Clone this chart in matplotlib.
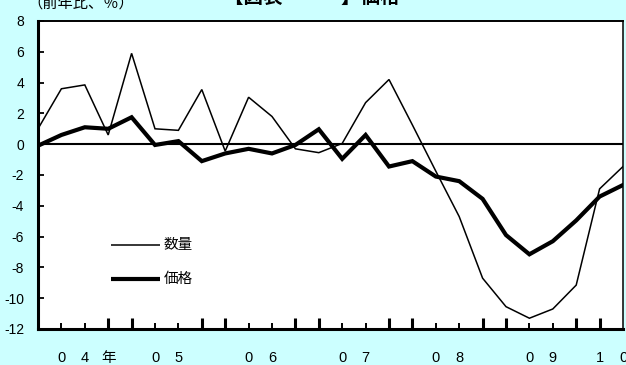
import matplotlib
matplotlib.use("Agg")
import matplotlib.pyplot as plt
from matplotlib.transforms import blended_transform_factory

# Year-on-year change (%), quarterly, 2004 Q1 onward
quarter_idx = list(range(26))
quantity = [1.0, 3.6, 3.85, 0.6, 5.9, 1.0, 0.9, 3.55, -0.45, 3.05, 1.8, -0.3,
            -0.55, 0.05, 2.7, 4.2, 1.25, -1.75, -4.7, -8.7, -10.55, -11.3,
            -10.7, -9.15, -2.9, -1.45]
price = [-0.1, 0.6, 1.1, 1.0, 1.75, -0.05, 0.2, -1.1, -0.6, -0.3, -0.6, -0.05,
         0.97, -0.95, 0.6, -1.45, -1.1, -2.1, -2.4, -3.55, -5.9, -7.15,
         -6.3, -4.95, -3.4, -2.65]

series_names = ["数量", "価格"]
y_ticks = [8, 6, 4, 2, 0, -2, -4, -6, -8, -10, -12]

# Axis labels along the time axis, one character per quarter position
label_pos = [1, 2, 3, 5, 6, 9, 10, 13, 14, 17, 18, 21, 22, 24, 25]
label_chr = ["0", "4", "年", "0", "5", "0", "6", "0", "7", "0", "8", "0", "9", "1", "0"]
major_ticks = [3, 4, 7, 8, 11, 12, 15, 16, 19, 20, 23, 24]
minor_ticks = [1, 2, 5, 6, 9, 10, 13, 14, 17, 18, 21, 22]

title_text = "【図表　　　】価格"
unit_text = "（前年比、％）"

FONT = ["Liberation Sans", "Noto Sans CJK JP", "DejaVu Sans"]
CJK = ["Noto Sans CJK JP", "DejaVu Sans"]
plt.rcParams["font.family"] = FONT

W, H = 626, 365
fig = plt.figure(figsize=(W / 100, H / 100), dpi=100, facecolor="#CCFFFF")
ax = fig.add_axes([38 / W, 1 - 329 / H, (623 - 38) / W, (329 - 21) / H])
ax.set_facecolor("white")

ax.set_xlim(0, 25)
ax.set_ylim(-12, 8)

ax.axhline(0, color="black", lw=1.5, zorder=2)
ax.plot(quarter_idx, quantity, color="black", lw=1.1, zorder=3,
        solid_joinstyle="miter")
ax.plot(quarter_idx, price, color="black", lw=3.0, zorder=4,
        solid_joinstyle="miter")

# Frame
for side, w in (("left", 2.2), ("bottom", 2.2), ("top", 1.4), ("right", 1.1)):
    ax.spines[side].set_linewidth(w)
    ax.spines[side].set_color("black")

# Y axis
ax.set_yticks(y_ticks)
ax.set_yticklabels([str(v) for v in y_ticks])
ax.tick_params(axis="y", direction="in", length=4, width=1.3, pad=10,
               labelsize=10, colors="black")

# X axis: tall ticks at year boundaries, short ones elsewhere
ax.set_xticks(major_ticks)
ax.set_xticks(minor_ticks, minor=True)
ax.tick_params(axis="x", which="major", direction="in", length=8, width=2.2,
               labelbottom=False)
ax.tick_params(axis="x", which="minor", direction="in", length=4.5, width=1.4,
               labelbottom=False)

tr = blended_transform_factory(ax.transData, fig.transFigure)
for p, ch in zip(label_pos, label_chr):
    ax.text(p, 1 - 358 / H, ch, transform=tr, ha="center", va="center",
            fontsize=10.5, family=FONT, clip_on=False)

# Legend drawn inside the plot area
legend_rows = [(series_names[0], 1.1, 245), (series_names[1], 3.0, 279)]
for name, lw, ypx in legend_rows:
    yy = 1 - (ypx - 21) / (329 - 21)
    ax.plot([(111 - 38) / 585, (160 - 38) / 585], [yy, yy], transform=ax.transAxes,
            color="black", lw=lw, solid_capstyle="butt")
    ax.text((164 - 38) / 585, yy, name, transform=ax.transAxes, ha="left",
            va="center", fontsize=10.5, family=CJK)

# Header texts
fig.text(224 / W, 1 - 3 / H, title_text, ha="left", va="baseline",
         fontsize=14, family=CJK, fontweight="bold")
fig.text(27 / W, 1 - 8 / H, unit_text, ha="left", va="baseline",
         fontsize=11, family=CJK)

fig.savefig("out.png", dpi=100, facecolor=fig.get_facecolor())
